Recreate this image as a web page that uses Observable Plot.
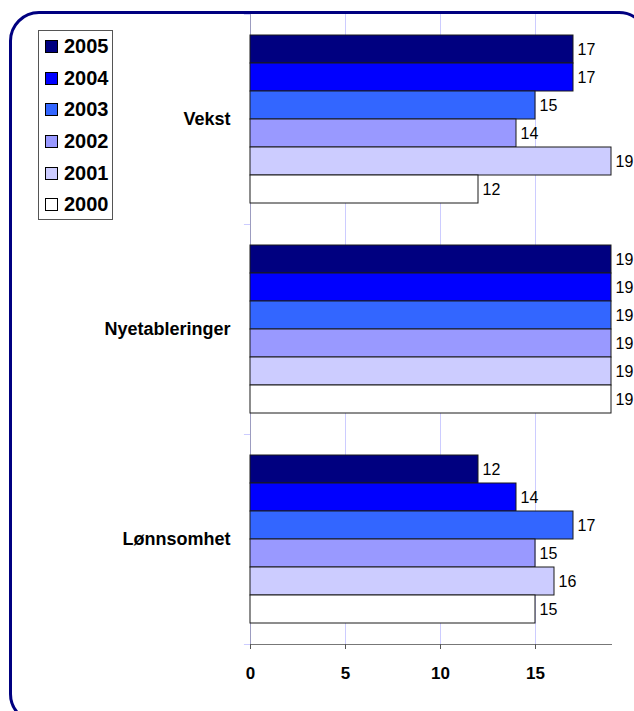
<!DOCTYPE html>
<html>
<head>
<meta charset="utf-8">
<script src="https://cdn.jsdelivr.net/npm/d3@7"></script>
<script src="https://cdn.jsdelivr.net/npm/@observablehq/plot@0.6"></script>
<style>
  html, body { margin: 0; padding: 0; background: #fff; overflow: hidden; }
  #wrap { position: relative; width: 634px; height: 711px; overflow: hidden; font-family: Arial, "Liberation Sans", sans-serif; }
  #frame { position: absolute; left: 9px; top: 11px; width: 640px; height: 713px; border: 3px solid #000080; border-radius: 30px; box-sizing: border-box; }
  #chart { position: absolute; left: 0; top: 0; }
  #legend { position: absolute; left: 38px; top: 30px; width: 75px; height: 190px; border: 1px solid #555; box-sizing: border-box; background: #fff; padding-top: 0px; }
  .item { height: 31.6px; display: flex; align-items: center; font-weight: bold; font-size: 20px; color: #000; }
  .sw { width: 11px; height: 11px; border: 1px solid #000; margin-left: 6px; margin-right: 6px; }
</style>
</head>
<body>
<div id="wrap">
  <div id="frame"></div>
  <div id="chart"></div>
  <div id="legend"></div>
</div>
<script>
const categories = ["Vekst", "Nyetableringer", "Lønnsomhet"];
const years = ["2005", "2004", "2003", "2002", "2001", "2000"];
const colors = ["#000080", "#0000FF", "#3366FF", "#9999FF", "#CCCCFF", "#FFFFFF"];
const vekst = [17, 17, 15, 14, 19, 12];
const nyetableringer = [19, 19, 19, 19, 19, 19];
const lonnsomhet = [12, 14, 17, 15, 16, 15];
const xTicks = [0, 5, 10, 15];
const xMax = 19;

const seriesByCat = [vekst, nyetableringer, lonnsomhet];
const data = [];
categories.forEach((c, i) => years.forEach((y, j) => data.push({category: c, year: y, value: seriesByCat[i][j]})));

const chart = Plot.plot({
  width: 634,
  height: 711,
  marginLeft: 250,
  marginRight: 23,
  marginTop: 13,
  marginBottom: 67,
  style: {fontFamily: 'Arial, "Liberation Sans", sans-serif', background: "transparent"},
  x: {domain: [0, xMax]},
  y: {domain: years, paddingInner: 0, paddingOuter: 0.75, axis: null},
  fy: {domain: categories, padding: 0},
  color: {domain: years, range: colors},
  marks: [
    Plot.gridX(xTicks.slice(1), {stroke: "#ccccff", strokeOpacity: 1}),
    Plot.ruleX([0], {stroke: "#9c9cc0", strokeWidth: 1}),
    Plot.ruleY(categories, {fy: d => d, y: () => years[0], dy: -35, x1: -0.32, x2: 0, stroke: "#ccccff"}),
    Plot.ruleY([categories[2]], {fy: d => d, y: () => years[5], dy: 35, x1: -0.32, x2: 0, stroke: "#ccccff"}),
    Plot.barX(data, {x: "value", y: "year", fy: "category", fill: "year", stroke: "#1a1a1a", strokeWidth: 1}),
    Plot.text(data, {x: "value", y: "year", fy: "category", text: d => String(d.value), textAnchor: "start", dx: 4, fontSize: 16, fill: "#000"}),
    Plot.frame({anchor: "bottom", facetAnchor: "bottom", stroke: "#777"}),
    Plot.axisX(xTicks, {anchor: "bottom", tickSize: 5, tickPadding: 17, fontSize: 17, fontWeight: "bold", stroke: "#555", fill: "#000", label: null}),
    Plot.axisFy({anchor: "left", tickSize: 0, tickPadding: 20, fontSize: 18, fontWeight: "bold", fill: "#000", label: null})
  ]
});
document.getElementById("chart").appendChild(chart);

const legend = document.getElementById("legend");
years.forEach((y, i) => {
  const row = document.createElement("div");
  row.className = "item";
  const sw = document.createElement("span");
  sw.className = "sw";
  sw.style.background = colors[i];
  row.appendChild(sw);
  row.appendChild(document.createTextNode(y));
  legend.appendChild(row);
});
</script>
</body>
</html>
